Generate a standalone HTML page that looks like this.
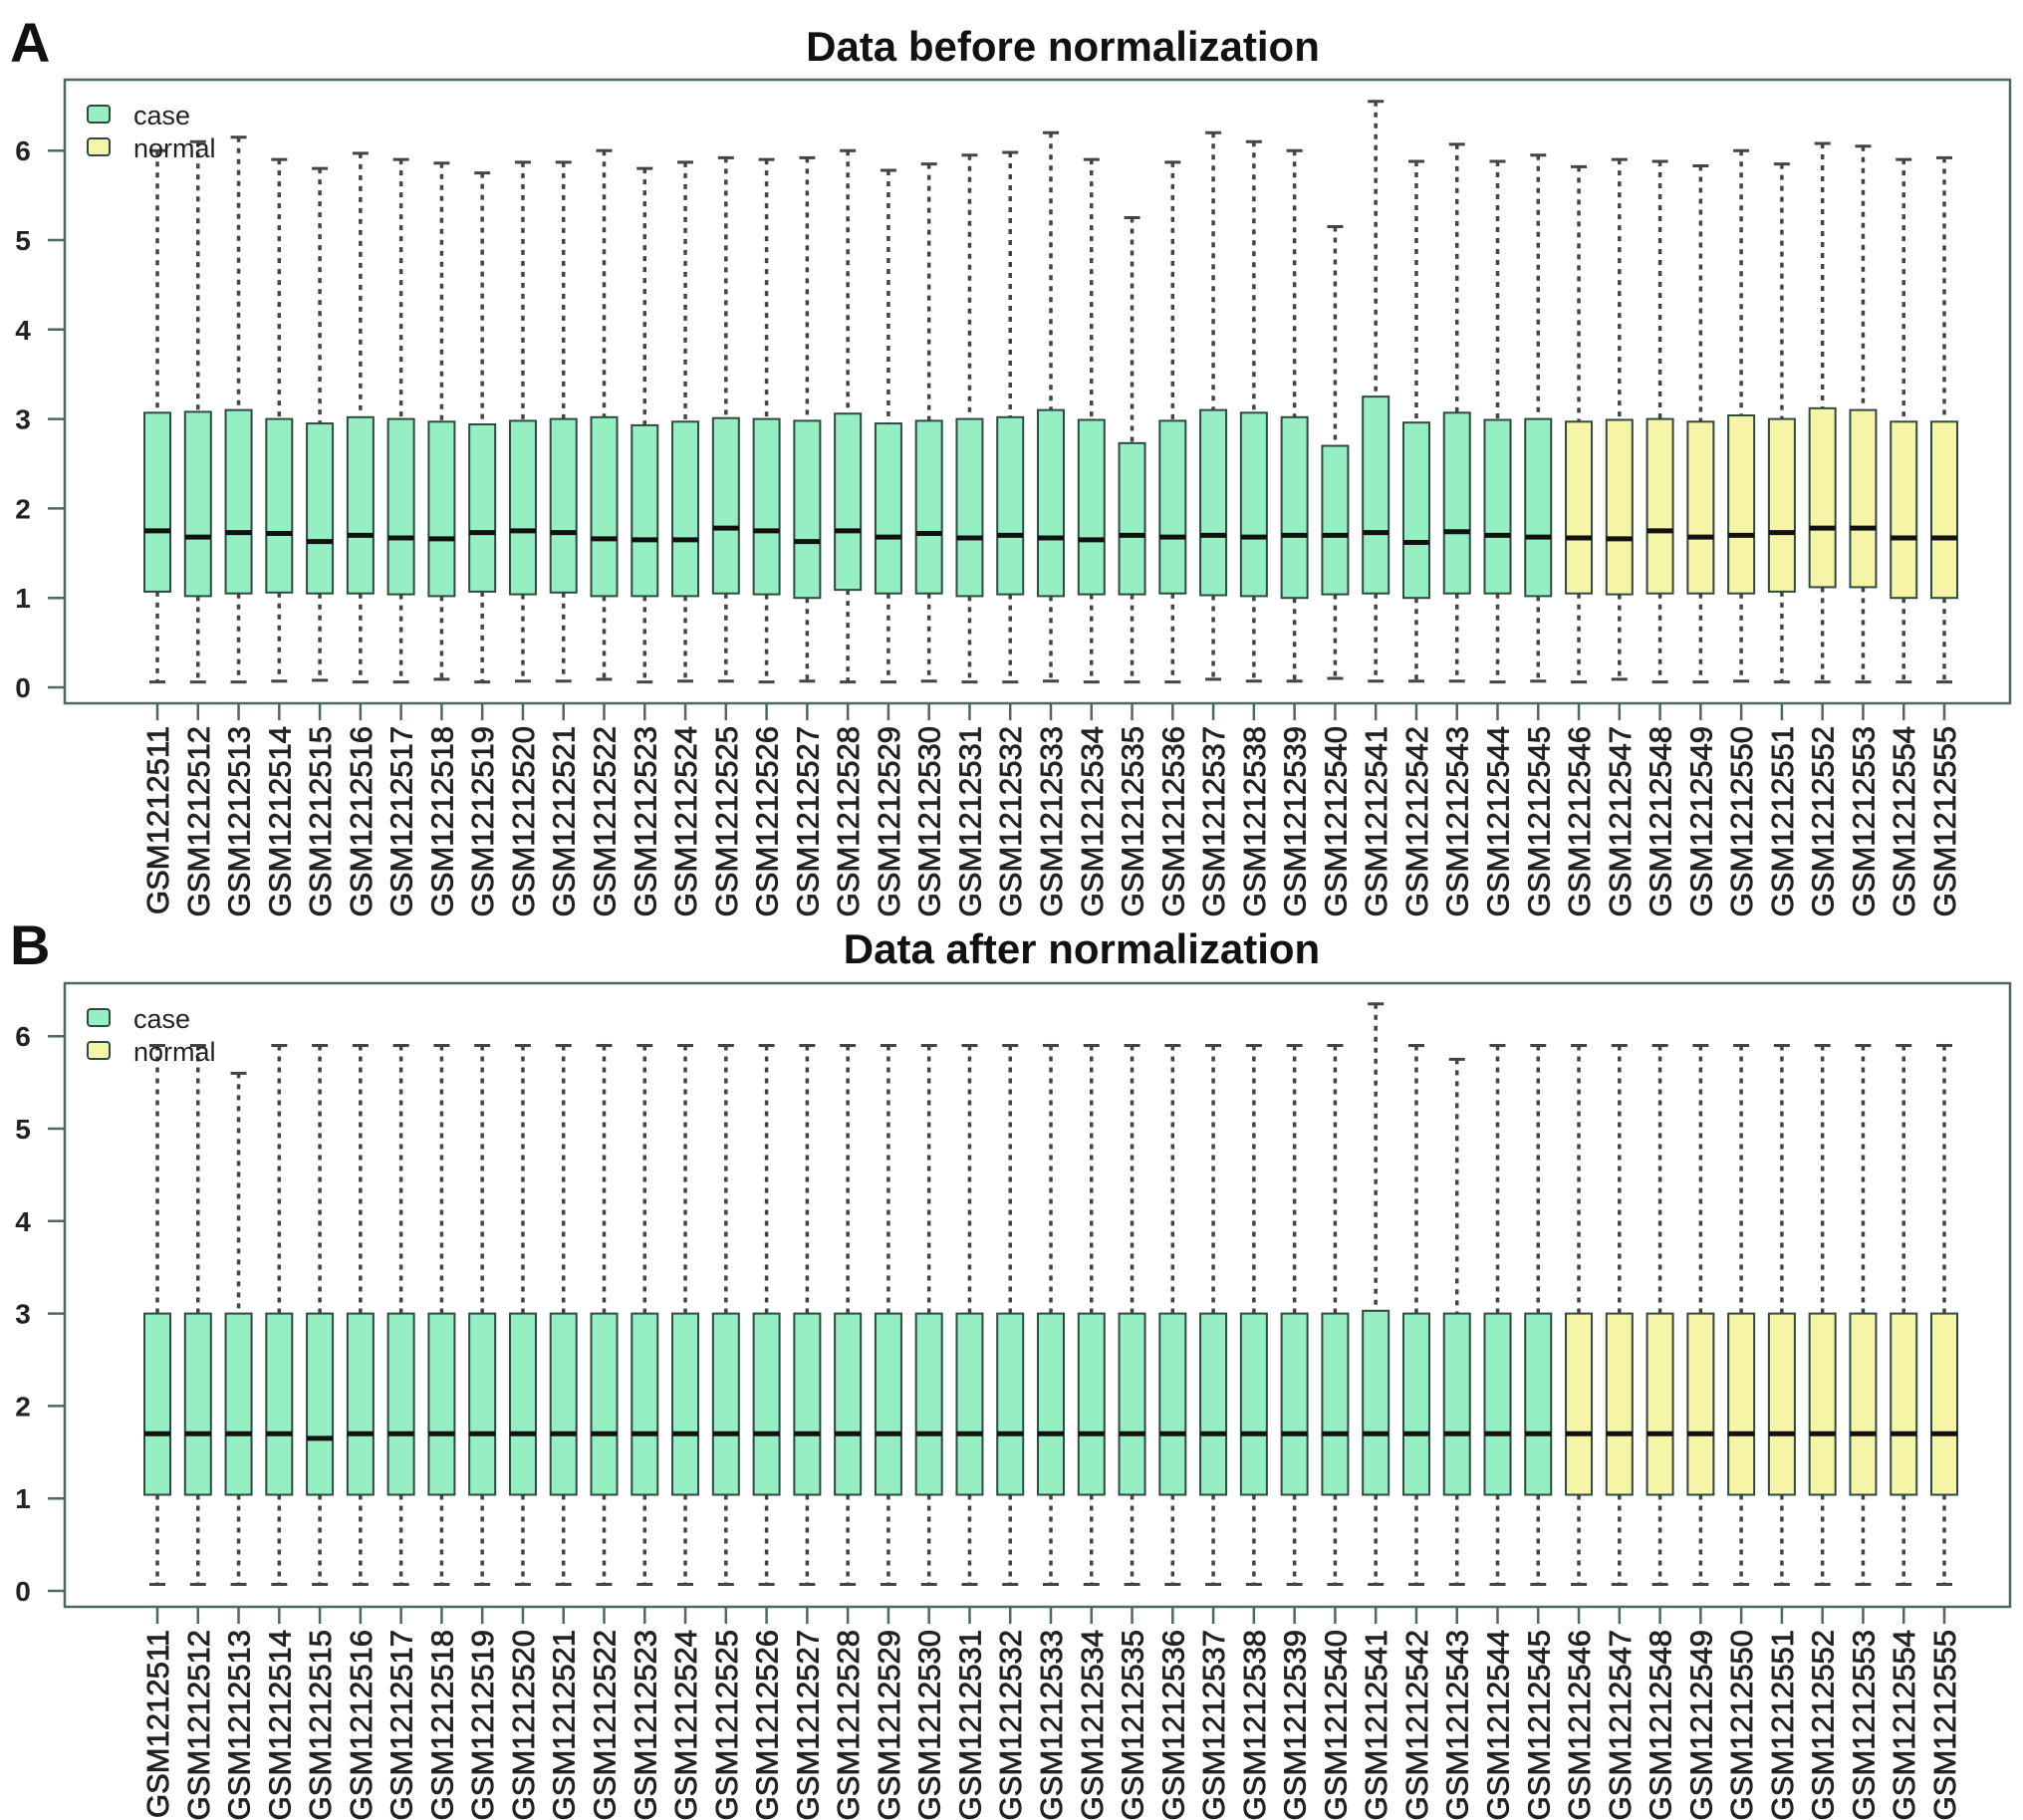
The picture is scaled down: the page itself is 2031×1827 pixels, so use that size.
<!DOCTYPE html>
<html><head><meta charset="utf-8">
<style>
html,body{margin:0;padding:0;background:#fff;}
svg{display:block;font-family:"Liberation Sans",sans-serif;}
</style></head>
<body>
<svg id="fig" width="2031" height="1827" viewBox="0 0 2031 1827"></svg>
<script>
const samples = ["GSM1212511","GSM1212512","GSM1212513","GSM1212514","GSM1212515","GSM1212516","GSM1212517","GSM1212518","GSM1212519","GSM1212520","GSM1212521","GSM1212522","GSM1212523","GSM1212524","GSM1212525","GSM1212526","GSM1212527","GSM1212528","GSM1212529","GSM1212530","GSM1212531","GSM1212532","GSM1212533","GSM1212534","GSM1212535","GSM1212536","GSM1212537","GSM1212538","GSM1212539","GSM1212540","GSM1212541","GSM1212542","GSM1212543","GSM1212544","GSM1212545","GSM1212546","GSM1212547","GSM1212548","GSM1212549","GSM1212550","GSM1212551","GSM1212552","GSM1212553","GSM1212554","GSM1212555"];
const groups = ["case","case","case","case","case","case","case","case","case","case","case","case","case","case","case","case","case","case","case","case","case","case","case","case","case","case","case","case","case","case","case","case","case","case","case","normal","normal","normal","normal","normal","normal","normal","normal","normal","normal"];
const yTicks = [0,1,2,3,4,5,6];

const beforeUpper = [6.0,6.1,6.15,5.9,5.8,5.97,5.9,5.86,5.75,5.87,5.87,6.0,5.8,5.87,5.92,5.9,5.92,6.0,5.78,5.85,5.95,5.98,6.2,5.9,5.25,5.87,6.2,6.1,6.0,5.15,6.55,5.88,6.07,5.88,5.95,5.82,5.9,5.88,5.83,6.0,5.85,6.08,6.05,5.9,5.92];
const beforeQ3 = [3.07,3.08,3.1,3.0,2.95,3.02,3.0,2.97,2.94,2.98,3.0,3.02,2.93,2.97,3.01,3.0,2.98,3.06,2.95,2.98,3.0,3.02,3.1,2.99,2.73,2.98,3.1,3.07,3.02,2.7,3.25,2.96,3.07,2.99,3.0,2.97,2.99,3.0,2.97,3.04,3.0,3.12,3.1,2.97,2.97];
const beforeMedian = [1.75,1.68,1.73,1.72,1.63,1.7,1.67,1.66,1.73,1.75,1.73,1.66,1.65,1.65,1.78,1.75,1.63,1.75,1.68,1.72,1.67,1.7,1.67,1.65,1.7,1.68,1.7,1.68,1.7,1.7,1.73,1.62,1.74,1.7,1.68,1.67,1.66,1.75,1.68,1.7,1.73,1.78,1.78,1.67,1.67];
const beforeQ1 = [1.07,1.02,1.05,1.06,1.05,1.05,1.04,1.02,1.07,1.04,1.06,1.02,1.02,1.02,1.05,1.04,1.0,1.09,1.05,1.05,1.02,1.04,1.02,1.04,1.04,1.05,1.03,1.02,1.0,1.04,1.05,1.0,1.05,1.05,1.02,1.05,1.04,1.05,1.05,1.05,1.07,1.12,1.12,1.0,1.0];
const beforeLower = [0.06,0.06,0.06,0.07,0.08,0.06,0.06,0.09,0.06,0.07,0.07,0.09,0.06,0.07,0.07,0.06,0.07,0.06,0.06,0.07,0.06,0.06,0.07,0.06,0.06,0.06,0.09,0.07,0.07,0.1,0.07,0.07,0.07,0.06,0.07,0.06,0.09,0.06,0.06,0.07,0.06,0.06,0.06,0.06,0.06];

const afterUpper = [5.9,5.9,5.6,5.9,5.9,5.9,5.9,5.9,5.9,5.9,5.9,5.9,5.9,5.9,5.9,5.9,5.9,5.9,5.9,5.9,5.9,5.9,5.9,5.9,5.9,5.9,5.9,5.9,5.9,5.9,6.35,5.9,5.75,5.9,5.9,5.9,5.9,5.9,5.9,5.9,5.9,5.9,5.9,5.9,5.9];
const afterQ3 = [3.0,3.0,3.0,3.0,3.0,3.0,3.0,3.0,3.0,3.0,3.0,3.0,3.0,3.0,3.0,3.0,3.0,3.0,3.0,3.0,3.0,3.0,3.0,3.0,3.0,3.0,3.0,3.0,3.0,3.0,3.03,3.0,3.0,3.0,3.0,3.0,3.0,3.0,3.0,3.0,3.0,3.0,3.0,3.0,3.0];
const afterMedian = [1.7,1.7,1.7,1.7,1.65,1.7,1.7,1.7,1.7,1.7,1.7,1.7,1.7,1.7,1.7,1.7,1.7,1.7,1.7,1.7,1.7,1.7,1.7,1.7,1.7,1.7,1.7,1.7,1.7,1.7,1.7,1.7,1.7,1.7,1.7,1.7,1.7,1.7,1.7,1.7,1.7,1.7,1.7,1.7,1.7];
const afterQ1 = [1.04,1.04,1.04,1.04,1.04,1.04,1.04,1.04,1.04,1.04,1.04,1.04,1.04,1.04,1.04,1.04,1.04,1.04,1.04,1.04,1.04,1.04,1.04,1.04,1.04,1.04,1.04,1.04,1.04,1.04,1.04,1.04,1.04,1.04,1.04,1.04,1.04,1.04,1.04,1.04,1.04,1.04,1.04,1.04,1.04];
const afterLower = [0.07,0.07,0.07,0.07,0.07,0.07,0.07,0.07,0.07,0.07,0.07,0.07,0.07,0.07,0.07,0.07,0.07,0.07,0.07,0.07,0.07,0.07,0.07,0.07,0.07,0.07,0.07,0.07,0.07,0.07,0.07,0.07,0.07,0.07,0.07,0.07,0.07,0.07,0.07,0.07,0.07,0.07,0.07,0.07,0.07];

const NS = "http://www.w3.org/2000/svg";
const svg = document.getElementById('fig');
function mk(tag, attrs, parent, text){
  const e = document.createElementNS(NS, tag);
  for (const k in attrs) e.setAttribute(k, attrs[k]);
  if (text !== undefined) e.textContent = text;
  (parent || svg).appendChild(e);
  return e;
}
const COL = {case:"#95efc3", normal:"#f6f4a6"};
const FRAME = "#4d6862";

function panel(p){
  const g = mk('g', {});
  
  
  const letter = mk('text', {x:10, y:p.letterY, 'font-size':56, 'font-weight':'bold', fill:'#111'}, g, p.letter);
  
  
  const title = mk('text', {x:p.titleX, y:p.titleY, 'font-size':42, 'font-weight':'bold', 'text-anchor':'middle', fill:'#111'}, g, p.title);
  
  

  const L=65, R=2018, T=p.top, B=p.bottom;
  const yS = v => p.y0 - v*p.unit;
  const x0 = 158, dx = (1952-158)/44;
  const xS = i => x0 + i*dx;

  const frame = mk('rect', {x:L, y:T, width:R-L, height:B-T, fill:'none', stroke:FRAME, 'stroke-width':2.5}, g);
  
  

  const yAxis = mk('g', {}, g);
  
  
  yTicks.forEach(t => {
    mk('line', {x1:48, x2:L, y1:yS(t), y2:yS(t), stroke:FRAME, 'stroke-width':2.5}, yAxis);
    const lb = mk('text', {x:23, y:yS(t)+10, 'font-size':28, 'font-weight':'bold', 'text-anchor':'middle', fill:'#222'}, yAxis, String(t));
    
    
  });

  const xAxis = mk('g', {}, g);
  
  
  samples.forEach((s, i) => {
    const x = xS(i);
    mk('line', {x1:x, x2:x, y1:B, y2:B+17, stroke:FRAME, 'stroke-width':2.5}, xAxis);
    const lb = mk('text', {x:0, y:0, 'font-size':31, 'text-anchor':'end', fill:'#222', stroke:'#222', 'stroke-width':0.8,
      transform:`translate(${x+11},${B+23}) rotate(-90)`}, xAxis, s);
    
    
  });

  samples.forEach((s, i) => {
    const x = xS(i), hw = 13;
    const bx = mk('g', {}, g);
    
    
    mk('line', {x1:x, x2:x, y1:yS(p.upper[i]), y2:yS(p.q3[i]), stroke:'#444', 'stroke-width':3.5, 'stroke-dasharray':'5 6'}, bx);
    mk('line', {x1:x, x2:x, y1:yS(p.q1[i]), y2:yS(p.lower[i]), stroke:'#444', 'stroke-width':3.5, 'stroke-dasharray':'5 6'}, bx);
    mk('line', {x1:x-8, x2:x+8, y1:yS(p.upper[i]), y2:yS(p.upper[i]), stroke:'#444', 'stroke-width':3}, bx);
    mk('line', {x1:x-8, x2:x+8, y1:yS(p.lower[i]), y2:yS(p.lower[i]), stroke:'#444', 'stroke-width':3}, bx);
    mk('rect', {x:x-hw, y:yS(p.q3[i]), width:2*hw, height:yS(p.q1[i])-yS(p.q3[i]), fill:COL[groups[i]], stroke:'#2e4a42', 'stroke-width':2}, bx);
    mk('line', {x1:x-hw, x2:x+hw, y1:yS(p.median[i]), y2:yS(p.median[i]), stroke:'#111', 'stroke-width':5}, bx);
  });

  const leg = mk('g', {}, g);
  
  
  [["case",0],["normal",1]].forEach(([n,k]) => {
    const yy = T + 35 + k*33;
    const e = mk('g', {}, leg);
    
    
    mk('rect', {x:88, y:yy-9, width:22, height:17, rx:3, fill:COL[n], stroke:'#2e4a42', 'stroke-width':2}, e);
    mk('text', {x:134, y:yy+10, 'font-size':27, fill:'#222'}, e, n);
  });
}

panel({name:'panel-a', letter:'A', letterY:62, title:'Data before normalization', titleX:1067, titleY:61,
  top:80, bottom:706, y0:690, unit:89.8,
  upper:beforeUpper, q3:beforeQ3, median:beforeMedian, q1:beforeQ1, lower:beforeLower});
panel({name:'panel-b', letter:'B', letterY:968, title:'Data after normalization', titleX:1086, titleY:967,
  top:987, bottom:1613, y0:1597, unit:92.8,
  upper:afterUpper, q3:afterQ3, median:afterMedian, q1:afterQ1, lower:afterLower});
</script>
</body></html>
